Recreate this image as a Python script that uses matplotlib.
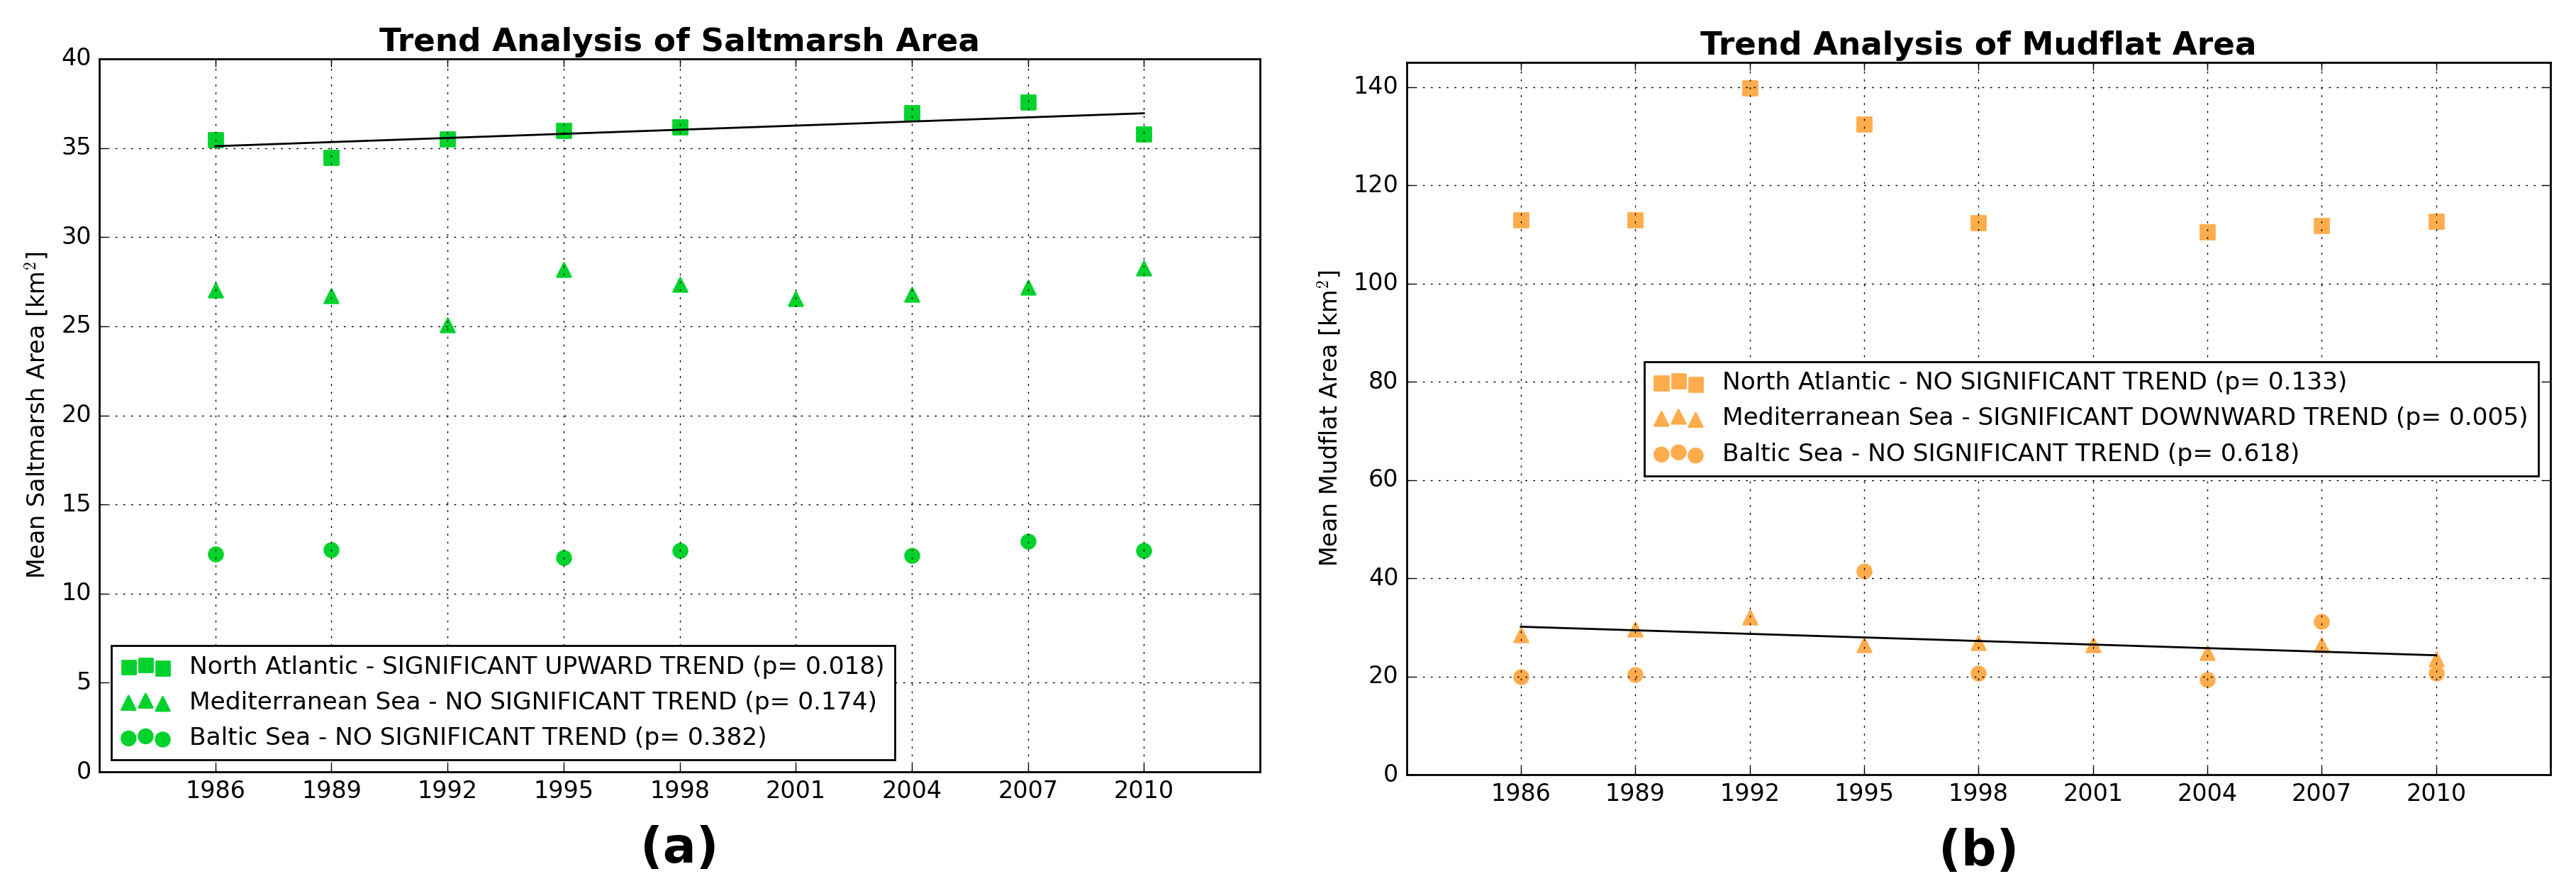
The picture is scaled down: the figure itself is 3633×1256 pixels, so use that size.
import numpy as np
import matplotlib
matplotlib.use("Agg")
import matplotlib.pyplot as plt

nan = np.nan

# ---------------- data ----------------
years = [1986, 1989, 1992, 1995, 1998, 2001, 2004, 2007, 2010]
xtick_labels = ["1986", "1989", "1992", "1995", "1998", "2001", "2004", "2007", "2010"]

regions = ["North Atlantic", "Mediterranean Sea", "Baltic Sea"]
markers = ["s", "^", "o"]

# Saltmarsh (panel a)
salt_na = [35.47, 34.48, 35.50, 35.98, 36.18, nan, 36.98, 37.58, 35.80]
salt_med = [27.02, 26.69, 25.07, 28.19, 27.35, 26.56, 26.77, 27.20, 28.26]
salt_bal = [12.23, 12.46, nan, 12.03, 12.41, nan, 12.15, 12.93, 12.41]
salt_trend = ["SIGNIFICANT UPWARD TREND", "NO SIGNIFICANT TREND", "NO SIGNIFICANT TREND"]
salt_p = ["0.018", "0.174", "0.382"]
salt_sig = [True, False, False]

# Mudflat (panel b)
mud_na = [112.9, 113.0, 139.75, 132.45, 112.35, nan, 110.5, 111.76, 112.7]
mud_med = [28.5, 29.6, 32.1, 26.5, 26.8, 26.5, 24.9, 26.4, 23.6]
mud_bal = [19.9, 20.4, nan, 41.4, 20.7, nan, 19.4, 31.2, 20.6]
mud_trend = ["NO SIGNIFICANT TREND", "SIGNIFICANT DOWNWARD TREND", "NO SIGNIFICANT TREND"]
mud_p = ["0.133", "0.005", "0.618"]
mud_sig = [False, True, False]

salt_yticks = [0, 5, 10, 15, 20, 25, 30, 35, 40]
mud_yticks = [0, 20, 40, 60, 80, 100, 120, 140]

# ---------------- style ----------------
plt.style.use("classic")
plt.rcParams["font.family"] = ["DejaVu Sans"]
plt.rcParams["figure.facecolor"] = "white"
plt.rcParams["savefig.facecolor"] = "white"
plt.rcParams["legend.scatterpoints"] = 3

GREEN = "#00D22D"
ORANGE = "#FFAC4D"

W, H = 3633, 1256
DPI = 200
fig = plt.figure(figsize=(W / DPI, H / DPI), dpi=DPI)

ax1 = fig.add_axes([140 / W, 1 - 1088 / H, (1777 - 140) / W, (1088 - 83) / H])
ax2 = fig.add_axes([1983.5 / W, 1 - 1092 / H, (3597 - 1983.5) / W, (1092 - 88) / H])


def draw(ax, series, trends, pvals, sig, color, title, ylabel, yticks, ylim,
         legend_loc, panel):
    x = np.array(years, dtype=float)
    for vals, reg, mk, tr, p in zip(series, regions, markers, trends, pvals):
        y = np.array(vals, dtype=float)
        ax.scatter(x, y, s=50, marker=mk, c=color, edgecolors=color,
                   linewidths=1.0, label=f"{reg} - {tr} (p= {p})")
    for vals, s in zip(series, sig):
        if s:
            y = np.array(vals, dtype=float)
            m = ~np.isnan(y)
            k, b = np.polyfit(x[m], y[m], 1)
            xx = np.array([x[m][0], x[m][-1]])
            ax.plot(xx, k * xx + b, color="k", lw=1.0)
    ax.set_xlim(1983, 2013)
    ax.set_ylim(*ylim)
    ax.set_xticks(years)
    ax.set_xticklabels(xtick_labels, fontsize=12)
    ax.set_yticks(yticks)
    ax.tick_params(labelsize=12)
    ax.grid(True)
    ax.set_title(title, fontsize=16.3, fontweight="bold", pad=4)
    ax.set_ylabel(ylabel, fontsize=12)
    ax.legend(loc=legend_loc, fontsize=12.4)
    ax.text(0.5, -0.108, panel, transform=ax.transAxes, ha="center",
            va="center", fontsize=25, fontweight="bold")


draw(ax1, [salt_na, salt_med, salt_bal], salt_trend, salt_p, salt_sig, GREEN,
     "Trend Analysis of Saltmarsh Area", "Mean Saltmarsh Area [km$^2$]",
     salt_yticks, (0, 40), "lower left", "(a)")
draw(ax2, [mud_na, mud_med, mud_bal], mud_trend, mud_p, mud_sig, ORANGE,
     "Trend Analysis of Mudflat Area", "Mean Mudflat Area [km$^2$]",
     mud_yticks, (0, 145), "center right", "(b)")

fig.savefig("out.png", dpi=DPI)
